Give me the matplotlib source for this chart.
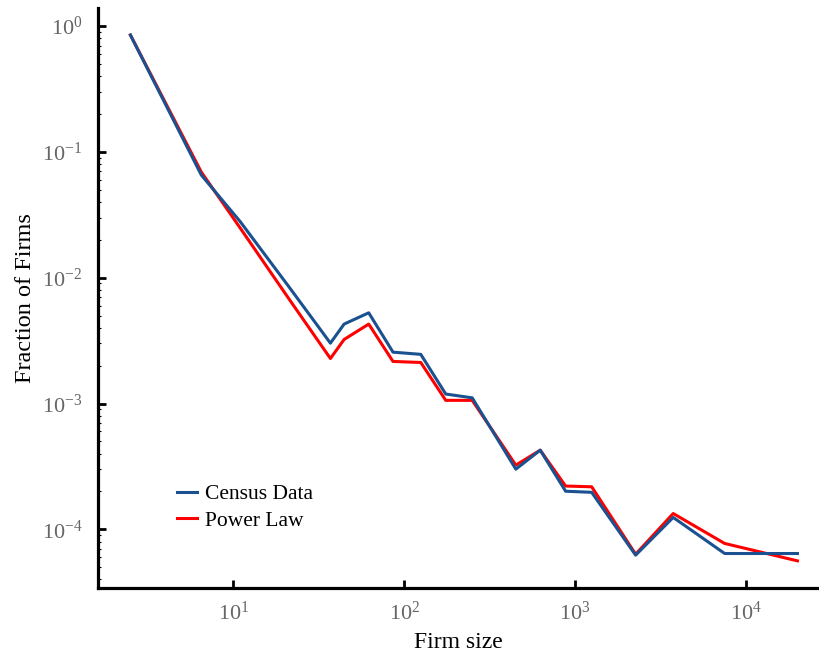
import matplotlib
matplotlib.use("Agg")
import matplotlib.pyplot as plt
from matplotlib.ticker import LogLocator, NullLocator

plt.rcParams['font.family'] = ['Liberation Serif', 'DejaVu Serif']
plt.rcParams['mathtext.fontset'] = 'stix'

firm_size = [2.5, 6.5, 11, 21.5, 37, 44.5, 62, 86, 125, 175, 250, 450, 625, 880,
             1250, 2260, 3750, 7500, 20000]
census = [0.848, 0.0654, 0.0278, 0.00822, 0.00302, 0.00428, 0.00526, 0.00256,
          0.00246, 0.00119, 0.00111, 3.01e-4, 4.26e-4, 2.01e-4, 1.97e-4, 6.24e-5,
          1.244e-4, 6.43e-5, 6.43e-5]
power_law = [0.848, 0.0691, 0.0247, 0.00658, 0.00228, 0.00323, 0.00428, 0.00216,
             0.00212, 0.00106, 0.00106, 3.24e-4, 4.26e-4, 2.21e-4, 2.18e-4, 6.35e-5,
             1.337e-4, 7.73e-5, 5.62e-5]

fig = plt.figure(figsize=(8.2, 6.53), dpi=100)
ax = fig.add_axes([97.7/820, 1 - 587.7/653, 1 - 97.7/820, (587.7 - 8.3)/653])

ax.plot(firm_size, power_law, color='#ff0000', lw=2.2, label='Power Law', zorder=2)
ax.plot(firm_size, census, color='#1a5190', lw=2.2, label='Census Data', zorder=3)

ax.set_xscale('log')
ax.set_yscale('log')
ax.set_xlim(1.609, 27100)
ax.set_ylim(3.44e-5, 1.383)

for s in ['top', 'right']:
    ax.spines[s].set_visible(False)
for s in ['left', 'bottom']:
    ax.spines[s].set_linewidth(2.3)

ax.xaxis.set_minor_locator(NullLocator())
ax.yaxis.set_minor_locator(LogLocator(base=10, subs=range(2, 10), numticks=20))
ax.tick_params(which='major', direction='in', length=6, width=2, labelsize=16,
               labelcolor='#666666', pad=10)
ax.tick_params(axis='y', which='major', pad=11)
ax.tick_params(which='minor', direction='in', length=1.8, width=0.8)

ax.set_xlabel('Firm size', fontsize=17, labelpad=5.5)
ax.set_ylabel('Fraction of Firms', fontsize=17.5, labelpad=4)

handles, labels = ax.get_legend_handles_labels()
ax.legend(handles[::-1], labels[::-1], loc='upper left',
          bbox_to_anchor=(177/820, 1 - 484/653), bbox_transform=fig.transFigure,
          frameon=False, fontsize=15.5, borderpad=0, borderaxespad=0,
          handlelength=0.93, handletextpad=0.37, labelspacing=0.3)

fig.savefig('out.png', dpi=100)
